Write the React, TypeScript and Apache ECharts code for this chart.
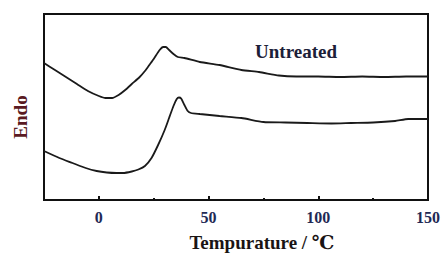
import React, { useEffect, useRef } from "react";
import * as echarts from "echarts";

// Temperature (°C) vs. heat-flow signal (arbitrary units, endo up)
const upperCurve: [number, number][] = [
  [-25, 137], [-20, 130], [-15, 123], [-10, 116], [-5, 109], [0, 104], [3, 102], [6, 102],
  [9, 105], [12, 110], [15, 116], [18.6, 123], [21, 129], [23, 135], [25, 141], [27.7, 150],
  [29.3, 153], [30.5, 153], [32, 150], [34, 146], [36, 143], [39, 142], [46, 138], [55, 135],
  [65, 130], [73, 128], [82, 124.5], [90, 123.5], [100, 123.5], [110, 123], [120, 123.5], [130, 123],
  [140, 123.5], [150, 123.5],
];
const lowerCurve: [number, number][] = [
  [-25, 49], [-18, 42], [-12, 37], [-6, 32], [-1, 29], [3.6, 27.5], [8, 27], [11, 27],
  [15, 28.5], [18, 30.5], [21, 34], [24, 42], [27, 55], [30, 70], [32, 82], [34, 94],
  [35.5, 101], [36.5, 102.5], [37.5, 101.5], [39, 95], [40.5, 89], [42, 87],
  [46, 86], [55, 84], [65, 82], [75, 78], [85, 77.5], [95, 77], [106, 76.5], [115, 77],
  [125, 77.5], [135, 79], [141, 81], [150, 81],
];
const majorTicks = [0, 50, 100, 150];
const minorTicks = [25, 75, 125];
const curveLabel = "Untreated";
const xTitle = "Tempurature / ℃";
const yTitle = "Endo";

const SERIF = '"Liberation Serif", "DejaVu Serif", serif';

export default function App() {
  const ref = useRef<HTMLDivElement>(null);
  useEffect(() => {
    if (!ref.current) return;
    const chart = echarts.init(ref.current, undefined, { renderer: "svg" });
    const base = {
      type: "value" as const,
      min: -25,
      max: 150,
      interval: 25,
      gridIndex: 0,
      position: "bottom" as const,
      axisLine: { show: false },
      splitLine: { show: false },
    };
    chart.setOption({
      animation: false,
      backgroundColor: "#ffffff",
      grid: {
        left: 44,
        right: 14,
        top: 14,
        bottom: 53,
        show: true,
        borderColor: "#111111",
        borderWidth: 2,
        backgroundColor: "transparent",
      },
      xAxis: [
        {
          ...base,
          axisTick: {
            show: true,
            inside: true,
            length: 4,
            customValues: majorTicks,
            lineStyle: { color: "#111", width: 2 },
          },
          axisLabel: {
            show: true,
            customValues: majorTicks,
            margin: 9,
            fontSize: 16,
            fontWeight: "bold",
            fontFamily: SERIF,
            color: "#1f2a55",
          },
        },
        {
          ...base,
          axisTick: {
            show: true,
            inside: true,
            length: 2,
            customValues: minorTicks,
            lineStyle: { color: "#111", width: 2 },
          },
          axisLabel: { show: false },
        },
      ],
      yAxis: {
        type: "value",
        min: 0,
        max: 186,
        axisLine: { show: false },
        axisTick: { show: false },
        axisLabel: { show: false },
        splitLine: { show: false },
      },
      series: [
        {
          type: "line",
          data: upperCurve,
          showSymbol: false,
          smooth: 0.2,
          lineStyle: { color: "#1a1a1a", width: 1.8 },
        },
        {
          type: "line",
          data: lowerCurve,
          showSymbol: false,
          smooth: 0.2,
          lineStyle: { color: "#1a1a1a", width: 1.8 },
        },
      ],
      graphic: [
        {
          type: "text",
          x: 296,
          y: 51,
          style: {
            text: curveLabel,
            fontSize: 19,
            fontWeight: "bold",
            fontFamily: SERIF,
            fill: "#1c2038",
            textAlign: "center",
            textVerticalAlign: "middle",
          },
        },
        {
          type: "text",
          x: 262,
          y: 242,
          style: {
            text: xTitle,
            fontSize: 19,
            fontWeight: "bold",
            fontFamily: SERIF,
            fill: "#1a1414",
            textAlign: "center",
            textVerticalAlign: "middle",
          },
        },
        {
          type: "text",
          x: 20,
          y: 117,
          rotation: Math.PI / 2,
          style: {
            text: yTitle,
            fontSize: 19,
            fontWeight: "bold",
            fontFamily: SERIF,
            fill: "#5a1a22",
            textAlign: "center",
            textVerticalAlign: "middle",
          },
        },
      ],
    });
    return () => chart.dispose();
  }, []);
  return (
    <div
      ref={ref}
      style={{ position: "fixed", left: 0, top: 0, width: 443, height: 253 }}
    />
  );
}
